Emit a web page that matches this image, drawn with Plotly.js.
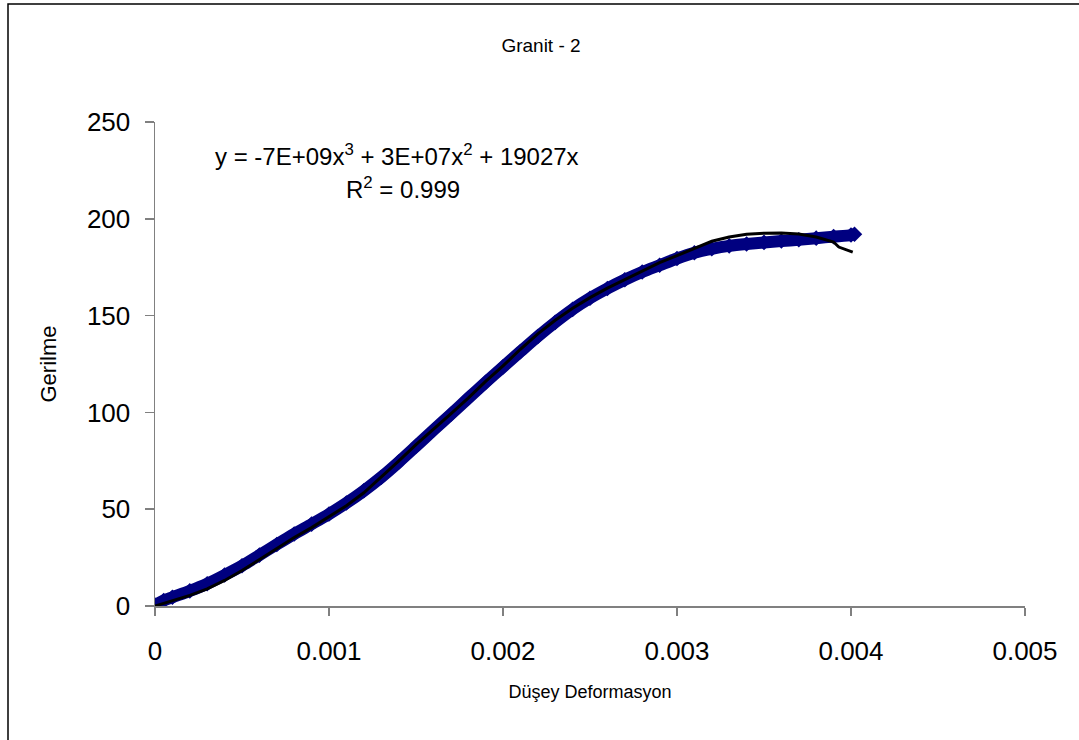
<!DOCTYPE html>
<html>
<head>
<meta charset="utf-8">
<script src="https://cdn.plot.ly/plotly-3.0.1.min.js"></script>
<style>
  html, body { margin: 0; padding: 0; background: #fff; }
  #chart { width: 1079px; height: 740px; }
</style>
</head>
<body>
<div id="chart"></div>
<script>
// Measured series (Düşey Deformasyon vs Gerilme)
const measuredStrain = [0, 0.00005, 0.0001, 0.0002, 0.0003, 0.0004, 0.0005, 0.0006, 0.0007, 0.0008, 0.0009,
  0.001, 0.0011, 0.0012, 0.0013, 0.0014, 0.0015, 0.0016, 0.0017, 0.0018, 0.0019,
  0.002, 0.0021, 0.0022, 0.0023, 0.0024, 0.0025, 0.0026, 0.0027, 0.0028, 0.0029,
  0.003, 0.0031, 0.0032, 0.0033, 0.0034, 0.0035, 0.0036, 0.0037, 0.0038, 0.0039, 0.004, 0.00402];
const measuredStress = [0.5, 2.8, 4.5, 7.8, 11.5, 16, 20.8, 26.3, 31.8, 37.2, 42.3,
  47.5, 53.2, 59.5, 66.5, 74.3, 82.5, 90.8, 99, 107.3, 115.5,
  123.5, 131.4, 139.2, 146.5, 153.2, 159, 164, 168.5, 172.5, 176,
  179.5, 182.5, 184.5, 186, 187, 187.8, 188.5, 189.2, 190, 190.8, 191.6, 192];

// Black line series
const lineStrain = [0, 0.0001, 0.0002, 0.0003, 0.0004, 0.0005, 0.0006, 0.0007, 0.0008, 0.0009,
  0.001, 0.0011, 0.0012, 0.0013, 0.00135, 0.0014, 0.0015, 0.00155, 0.0016, 0.0017, 0.0018, 0.0019,
  0.002, 0.0021, 0.0022, 0.0023, 0.0024, 0.0025, 0.0026, 0.0027, 0.0028, 0.0029,
  0.003, 0.0031, 0.0032, 0.0033, 0.0034, 0.0035, 0.0036, 0.0037, 0.0038, 0.0039, 0.00393, 0.00401];
const lineStress = [0, 2.8, 5.5, 8.8, 13.2, 18.3, 24, 29.6, 35.4, 40.5,
  46, 51.8, 58.5, 66.4, 70.5, 74.8, 83.3, 87.2, 91, 99.2, 107.4, 116,
  124, 132.6, 140.6, 147.6, 153.8, 159.3, 164.2, 168.6, 173.2, 177.4,
  181, 184.8, 188.4, 190.6, 192, 192.6, 192.7, 192.2, 190.6, 188, 185.4, 182.8];

const xTickVals = [0, 0.001, 0.002, 0.003, 0.004, 0.005];
const xTickText = ['0', '0.001', '0.002', '0.003', '0.004', '0.005'];
const yTickVals = [0, 50, 100, 150, 200, 250];
const yTickText = ['0', '50', '100', '150', '200', '250'];

const chartTitle = 'Granit - 2';
const xTitle = 'Düşey Deformasyon';
const yTitle = 'Gerilme';
const equationText = 'y = -7E+09x<sup>3</sup> + 3E+07x<sup>2</sup> + 19027x';
const r2Text = 'R<sup>2</sup> = 0.999';

const FONT = '"Liberation Sans", Arial, sans-serif';

const traces = [
  {
    x: measuredStrain, y: measuredStress,
    type: 'scatter', mode: 'lines+markers',
    line: { color: '#000080', width: 12, shape: 'spline', smoothing: 0.8 },
    marker: { symbol: 'diamond', size: 12, color: '#000080' },
    hoverinfo: 'x+y', showlegend: false
  },
  {
    x: lineStrain, y: lineStress,
    type: 'scatter', mode: 'lines',
    line: { color: '#000000', width: 3 },
    hoverinfo: 'x+y', showlegend: false
  }
];

const layout = {
  width: 1079, height: 740,
  paper_bgcolor: '#ffffff', plot_bgcolor: '#ffffff',
  margin: { l: 155, r: 54, t: 122, b: 134 },
  font: { family: FONT, color: '#000' },
  showlegend: false,
  title: {
    text: chartTitle,
    font: { family: FONT, size: 19, color: '#000' },
    x: 0.5014, xref: 'container', xanchor: 'center',
    y: 1 - 45 / 740, yref: 'container', yanchor: 'middle'
  },
  xaxis: {
    range: [0, 0.005],
    tickvals: xTickVals, ticktext: xTickText,
    showgrid: false, zeroline: false,
    showline: true, linecolor: '#808080', linewidth: 1.5,
    ticks: 'outside', ticklen: 8, tickwidth: 1.5, tickcolor: '#808080',
    ticklabelstandoff: 13,
    tickfont: { family: FONT, size: 26, color: '#000' },
    title: { text: xTitle, font: { family: FONT, size: 18, color: '#000' }, standoff: 20 },
    automargin: false
  },
  yaxis: {
    range: [0, 250],
    tickvals: yTickVals, ticktext: yTickText,
    showgrid: false, zeroline: false,
    showline: true, linecolor: '#808080', linewidth: 1.5,
    ticks: 'outside', ticklen: 9, tickwidth: 1.5, tickcolor: '#808080',
    ticklabelstandoff: 9,
    tickfont: { family: FONT, size: 26, color: '#000' },
    title: { text: yTitle, font: { family: FONT, size: 22, color: '#000' }, standoff: 24 },
    automargin: false
  },
  annotations: [
    {
      text: equationText, xref: 'paper', yref: 'paper',
      x: (397 - 155) / 870, y: (606 - 155) / 484,
      xanchor: 'center', yanchor: 'middle', showarrow: false,
      font: { family: FONT, size: 24, color: '#000' }
    },
    {
      text: r2Text, xref: 'paper', yref: 'paper',
      x: (403 - 155) / 870, y: (606 - 188) / 484,
      xanchor: 'center', yanchor: 'middle', showarrow: false,
      font: { family: FONT, size: 24, color: '#000' }
    }
  ],
  shapes: [
    {
      type: 'rect', xref: 'paper', yref: 'paper', layer: 'below',
      x0: (8 - 155) / 870, x1: (1090 - 155) / 870,
      y0: (606 - 760) / 484, y1: (606 - 4) / 484,
      line: { color: '#000000', width: 1.5 }, fillcolor: 'rgba(0,0,0,0)'
    }
  ]
};

Plotly.newPlot('chart', traces, layout, { displayModeBar: false, staticPlot: true });
</script>
</body>
</html>
